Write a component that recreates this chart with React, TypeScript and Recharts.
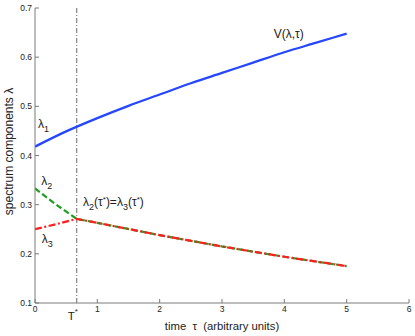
import { LineChart, Line, XAxis, YAxis, ReferenceLine, ReferenceDot } from 'recharts'

// time axis (arbitrary units) and spectrum components
const tau = [0, 0.5, 1, 1.5, 2, 2.5, 3, 3.5, 4, 4.5, 5]
const lambda1 = [0.418, 0.449, 0.476, 0.501, 0.524, 0.547, 0.568, 0.589, 0.61, 0.629, 0.648]

const tauStar = 0.67
const tauBefore = [0, 0.33, 0.67]
const lambda2Before = [0.333, 0.301, 0.271]
const lambda3Before = [0.25, 0.26, 0.271]
const tauAfter = [1, 2, 3, 4, 5]
const lambdaMerged = [0.263, 0.238, 0.215, 0.194, 0.175]

const xTicks = [0, 1, 2, 3, 4, 5, 6]
const yTicks = [0.1, 0.2, 0.3, 0.4, 0.5, 0.6, 0.7]

const toPoints = (xs: number[], ys: number[]) => xs.map((t, i) => ({ tau: t, v: ys[i] }))

const blueData = toPoints(tau, lambda1)
const greenData = toPoints([...tauBefore, ...tauAfter], [...lambda2Before, ...lambdaMerged])
const redData = toPoints([...tauBefore, ...tauAfter], [...lambda3Before, ...lambdaMerged])

const FONT = '"Liberation Sans", Arial, Helvetica, sans-serif'
const AXIS = '#7a7a7a'
const TEXT = '#222'

const tickStyle = { fontSize: 8.5, fill: TEXT, fontFamily: FONT }

const Lam = ({ x, y, sub }: { x: number; y: number; sub: string }) => (
  <text x={x} y={y} fontSize={12} fill={TEXT} fontFamily={FONT}>
    λ<tspan dy={4} fontSize={9}>{sub}</tspan>
  </text>
)

const CrossLabel = ({ x, y }: { x: number; y: number }) => (
  <text x={x} y={y} fontSize={12} fill={TEXT} fontFamily={FONT}>
    λ<tspan dy={4} fontSize={9}>2</tspan>
    <tspan dy={-4}>(τ</tspan>
    <tspan dy={-4} fontSize={8}>*</tspan>
    <tspan dy={4}>)=λ</tspan>
    <tspan dy={4} fontSize={9}>3</tspan>
    <tspan dy={-4}>(τ</tspan>
    <tspan dy={-4} fontSize={8}>*</tspan>
    <tspan dy={4}>)</tspan>
  </text>
)

export default function App() {
  return (
    <div style={{ position: 'absolute', left: 0, top: 0, width: 415, height: 336, background: '#fff' }}>
      <LineChart width={415} height={336} margin={{ top: 8, right: 6, bottom: 0, left: 0 }}>
        <XAxis
          xAxisId="bottom"
          dataKey="tau"
          type="number"
          domain={[0, 6]}
          ticks={xTicks}
          interval={0}
          allowDataOverflow
          height={33}
          stroke={AXIS}
          tickSize={-4}
          tickMargin={7}
          tick={tickStyle}
          label={{
            content: ({ viewBox }: any) => (
              <text
                x={viewBox.x + viewBox.width / 2}
                y={viewBox.y + 27}
                textAnchor="middle"
                fontSize={11.3}
                fill={TEXT}
                fontFamily={FONT}
                style={{ whiteSpace: 'pre' }}
              >
                {'time  τ  (arbitrary units)'}
              </text>
            ),
          }}
        />
        <XAxis
          xAxisId="top"
          orientation="top"
          dataKey="tau"
          type="number"
          domain={[0, 6]}
          ticks={xTicks}
          interval={0}
          allowDataOverflow
          height={0}
          stroke={AXIS}
          tickSize={-4}
          tick={false}
        />
        <YAxis
          yAxisId="left"
          type="number"
          domain={[0.1, 0.7]}
          ticks={yTicks}
          interval={0}
          allowDataOverflow
          width={35}
          stroke={AXIS}
          tickSize={-4}
          tickMargin={7}
          tick={tickStyle}
          tickFormatter={(v: number) => v.toFixed(1)}
          label={{
            content: ({ viewBox }: any) => (
              <text
                x={13}
                y={viewBox.y + viewBox.height / 2 - 4}
                transform={`rotate(-90 13 ${viewBox.y + viewBox.height / 2 - 4})`}
                textAnchor="middle"
                fontSize={12}
                fill={TEXT}
                fontFamily={FONT}
              >
                spectrum components λ
              </text>
            ),
          }}
        />
        <YAxis
          yAxisId="right"
          orientation="right"
          type="number"
          domain={[0.1, 0.7]}
          ticks={yTicks}
          interval={0}
          allowDataOverflow
          width={0}
          stroke={AXIS}
          tickSize={-4}
          tick={false}
        />

        <ReferenceLine
          xAxisId="bottom"
          yAxisId="left"
          x={tauStar}
          stroke="#444"
          strokeWidth={0.8}
          strokeDasharray="5 2 1 2"
        />

        <Line
          xAxisId="bottom"
          yAxisId="left"
          data={blueData}
          dataKey="v"
          type="monotone"
          stroke="#2547ff"
          strokeWidth={2.3}
          dot={false}
          activeDot={false}
          isAnimationActive={false}
        />
        <Line
          xAxisId="bottom"
          yAxisId="left"
          data={greenData}
          dataKey="v"
          type="linear"
          stroke="#1e9e1e"
          strokeWidth={2.2}
          strokeDasharray="6 3"
          dot={false}
          activeDot={false}
          isAnimationActive={false}
        />
        <Line
          xAxisId="bottom"
          yAxisId="left"
          data={redData}
          dataKey="v"
          type="linear"
          stroke="#ff1f1f"
          strokeWidth={2.2}
          strokeDasharray="7 2.5 2 2.5"
          dot={false}
          activeDot={false}
          isAnimationActive={false}
        />

        <ReferenceDot
          xAxisId="bottom"
          yAxisId="left"
          x={0.05}
          y={0.456}
          ifOverflow="visible"
          shape={(p: any) => <Lam x={p.cx} y={p.cy} sub="1" />}
        />
        <ReferenceDot
          xAxisId="bottom"
          yAxisId="left"
          x={0.1}
          y={0.341}
          ifOverflow="visible"
          shape={(p: any) => <Lam x={p.cx} y={p.cy} sub="2" />}
        />
        <ReferenceDot
          xAxisId="bottom"
          yAxisId="left"
          x={0.11}
          y={0.223}
          ifOverflow="visible"
          shape={(p: any) => <Lam x={p.cx} y={p.cy} sub="3" />}
        />
        <ReferenceDot
          xAxisId="bottom"
          yAxisId="left"
          x={0.77}
          y={0.297}
          ifOverflow="visible"
          shape={(p: any) => <CrossLabel x={p.cx} y={p.cy} />}
        />
        <ReferenceDot
          xAxisId="bottom"
          yAxisId="left"
          x={3.83}
          y={0.639}
          ifOverflow="visible"
          shape={(p: any) => (
            <text x={p.cx} y={p.cy} fontSize={12} fill={TEXT} fontFamily={FONT}>
              V(λ,τ)
            </text>
          )}
        />
        <ReferenceDot
          xAxisId="bottom"
          yAxisId="left"
          x={tauStar}
          y={0.1}
          ifOverflow="visible"
          shape={(p: any) => (
            <text x={p.cx - 9} y={p.cy + 17} fontSize={11.5} fill={TEXT} fontFamily={FONT}>
              T<tspan dy={-6} fontSize={8}>*</tspan>
            </text>
          )}
        />
      </LineChart>
    </div>
  )
}
